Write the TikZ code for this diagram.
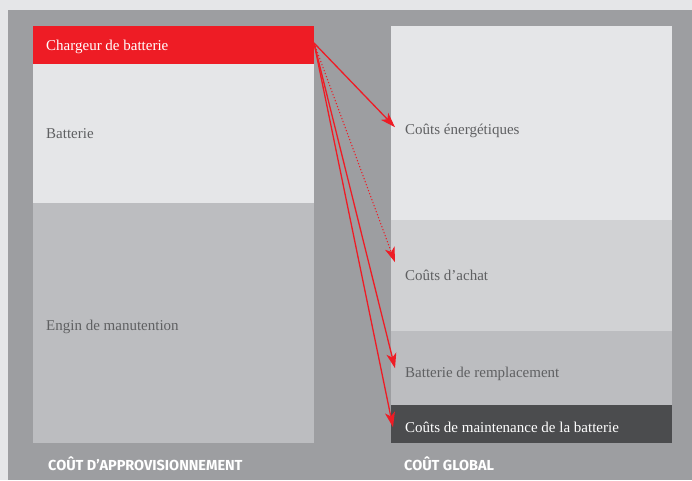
\documentclass[tikz,border=0pt]{standalone}
\usepackage{fontspec}
\setmainfont{Liberation Serif}
\newfontfamily\titrefont{Fira Sans Bold}
\usetikzlibrary{arrows.meta}
\definecolor{fondclair}{HTML}{E5E6E8}
\definecolor{cadre}{HTML}{9D9EA1}
\definecolor{rouge}{HTML}{EE1C25}
\definecolor{grismoyen}{HTML}{D1D2D4}
\definecolor{grisfonce}{HTML}{BCBDC0}
\definecolor{anthracite}{HTML}{4B4C4E}
\definecolor{texte}{HTML}{5F6062}
\tikzset{
  bloc/.style={anchor=north west, minimum width=281pt, inner sep=0pt},
  etiquette/.style={anchor=west, inner sep=0pt, font=\fontsize{15}{17}\selectfont, text=texte},
  fleche/.style={draw=rouge, line width=1.3pt, -{Stealth[length=15pt,width=10pt,inset=4pt]}},
  titre/.style={anchor=base west, text=white, inner sep=0pt, font=\titrefont\fontsize{14.5}{16}\selectfont}
}
\begin{document}
\begin{tikzpicture}[x=1pt,y=-1pt]
  % Fond et cadre
  \fill[fondclair] (0,0) rectangle (692,480);
  \fill[cadre] (8,10) rectangle (692,480);
  \useasboundingbox (0,0) rectangle (692,480);

  % Colonne gauche
  \node[bloc, fill=rouge, minimum height=38pt] (chargeur) at (33,26) {};
  \node[bloc, fill=fondclair, minimum height=139pt] (batterie) at (33,64) {};
  \node[bloc, fill=grisfonce, minimum height=240pt] (engin) at (33,203) {};
  \node[etiquette, text=white] (chargeurtxt) at ([xshift=13pt,yshift=-2pt]chargeur.west) {Chargeur de batterie};
  \node[etiquette] (batterietxt) at ([xshift=13pt]batterie.west) {Batterie};
  \node[etiquette] (engintxt) at ([xshift=13pt,yshift=-4pt]engin.west) {Engin de manutention};

  % Colonne droite
  \node[bloc, fill=fondclair, minimum height=194pt] (energie) at (391,26) {};
  \node[bloc, fill=grismoyen, minimum height=111pt] (achat) at (391,220) {};
  \node[bloc, fill=grisfonce, minimum height=74pt] (remplacement) at (391,331) {};
  \node[bloc, fill=anthracite, minimum height=38pt] (maintenance) at (391,405) {};
  \node[etiquette] (energietxt) at ([xshift=14pt,yshift=-8pt]energie.west) {Coûts énergétiques};
  \node[etiquette] (achattxt) at ([xshift=14pt]achat.west) {Coûts d’achat};
  \node[etiquette] (remplacementtxt) at ([xshift=14pt,yshift=-6pt]remplacement.west) {Batterie de remplacement};
  \node[etiquette, text=white] (maintenancetxt) at ([xshift=14pt,yshift=-3pt]maintenance.west) {Coûts de maintenance de la batterie};

  % Titres
  \node[titre] (appro) at (48,470) {COÛT D’APPROVISIONNEMENT};
  \node[titre] (global) at (404,470) {COÛT GLOBAL};

  % Fleches
  \coordinate (depart) at (314,43);
  \draw[fleche] (depart) -- ([xshift=4pt,yshift=-4pt]energie.west);
  \draw[fleche, line width=1pt, dash pattern=on 1.2pt off 2pt] (depart) -- ([xshift=4pt,yshift=13.5pt]achat.west);
  \draw[fleche] (depart) -- ([xshift=4pt]remplacement.west);
  \draw[fleche] (depart) -- ([xshift=2pt,yshift=-3pt]maintenance.west);
\end{tikzpicture}
\end{document}
